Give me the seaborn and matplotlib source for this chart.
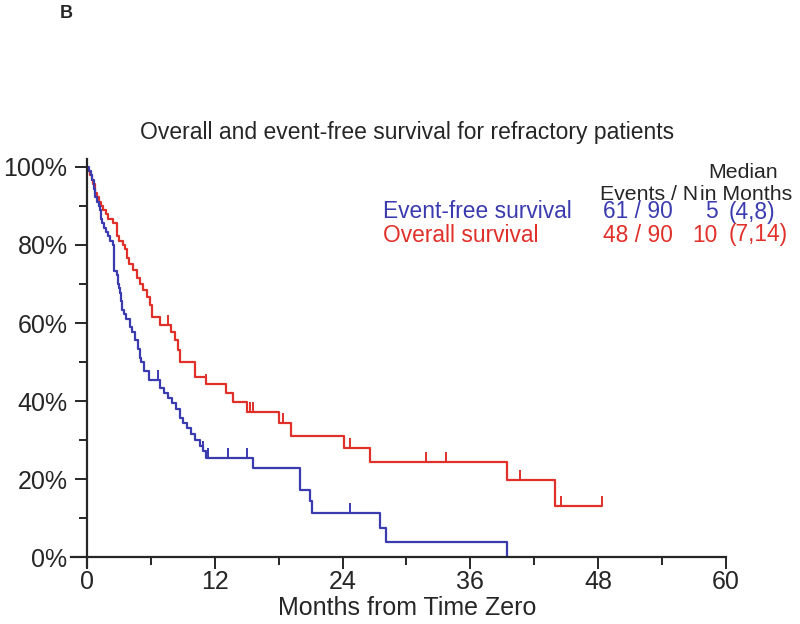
import numpy as np
import pandas as pd
import matplotlib
matplotlib.use('Agg')
import matplotlib.pyplot as plt
import seaborn as sns

# Kaplan-Meier step data (months, survival %)
efs_time = [0, 0.2, 0.4, 0.5, 0.7, 0.8, 0.9, 1.1, 1.2, 1.3, 1.4, 1.6, 1.8, 2.0, 2.2,
            2.4, 2.5, 2.55, 2.8, 2.9, 3.0, 3.1, 3.2, 3.3, 3.5, 3.7, 4.0, 4.2, 4.5,
            4.8, 5.0, 5.1, 5.4, 5.8, 6.9, 7.2, 7.6, 8.0, 8.4, 8.7, 9.0, 9.4, 9.8,
            10.1, 10.6, 10.9, 11.2, 15.6, 20.0, 20.9, 21.1, 27.5, 28.1, 39.4]
efs_surv = [100, 98.9, 97.8, 96.7, 94.4, 92.2, 91.1, 90.0, 88.9, 86.7, 85.6, 84.4,
            83.3, 82.2, 81.1, 80.0, 76.7, 73.3, 72.2, 70.0, 68.9, 67.8, 65.6, 63.3,
            62.2, 61.1, 58.9, 57.8, 55.6, 53.3, 51.1, 50.0, 47.8, 45.5, 43.3, 42.0,
            40.7, 39.4, 38.1, 35.6, 34.3, 33.0, 31.6, 30.0, 28.6, 27.2, 25.5, 22.9,
            17.2, 14.3, 11.4, 7.6, 3.8, 0]
efs_cens = [6.7, 10.9, 11.4, 13.2, 15.0, 24.7]

os_time = [0, 0.1, 0.3, 0.5, 0.6, 0.75, 0.9, 1.1, 1.3, 1.5, 1.8, 2.0, 2.4, 2.8, 3.0,
           3.4, 3.6, 3.8, 3.9, 4.3, 4.7, 5.0, 5.3, 5.6, 5.9, 6.1, 6.9, 7.9, 8.3,
           8.5, 8.7, 10.1, 11.2, 13.1, 13.7, 15.0, 18.0, 19.2, 24.1, 26.6, 39.4,
           43.9, 48.4]
os_surv = [100, 98.9, 97.8, 96.7, 95.6, 93.3, 92.2, 91.1, 90.0, 88.9, 87.8, 86.7,
           85.6, 82.2, 81.1, 80.0, 78.9, 76.7, 75.0, 73.6, 71.5, 70.0, 68.5, 66.7,
           64.6, 61.6, 59.5, 57.8, 55.6, 53.0, 50.0, 46.2, 44.5, 42.0, 39.8, 37.3,
           34.3, 31.0, 28.1, 24.4, 19.7, 13.1, 13.1]
os_cens = [7.6, 11.2, 15.0, 15.3, 15.6, 18.4, 24.7, 31.8, 33.7, 40.7, 44.5, 48.4]

x_ticks = [0, 12, 24, 36, 48, 60]
y_ticks = [0, 20, 40, 60, 80, 100]
y_labels = ['0%', '20%', '40%', '60%', '80%', '100%']

blue = '#3b3bb0'
red = '#e0302a'

sns.set_style('ticks')
plt.rcParams['font.family'] = ['Liberation Sans', 'DejaVu Sans']


def at_time(times, surv, t):
    # survival value of the step curve at time t
    idx = np.searchsorted(times, t, side='right') - 1
    return np.asarray(surv)[idx]


fig = plt.figure(figsize=(8, 6.24), dpi=100)
ax = fig.add_axes([0.08875, 0.0913, 0.81875, 0.6538])

efs = pd.DataFrame({'t': efs_time, 's': efs_surv})
ovs = pd.DataFrame({'t': os_time, 's': os_surv})
sns.lineplot(data=ovs, x='t', y='s', drawstyle='steps-post', estimator=None,
             color=red, lw=1.6, ax=ax)
sns.lineplot(data=efs, x='t', y='s', drawstyle='steps-post', estimator=None,
             color=blue, lw=1.6, ax=ax)

# censor marks (tick up from the curve)
sns.scatterplot(x=os_cens, y=at_time(os_time, os_surv, os_cens), marker=2,
                s=55, color=red, linewidth=1.4, ax=ax)
sns.scatterplot(x=efs_cens, y=at_time(efs_time, efs_surv, efs_cens), marker=2,
                s=55, color=blue, linewidth=1.4, ax=ax)

ax.set_xlim(-1.5, 60)
ax.set_ylim(-2.5, 102)
ax.spines['left'].set_position(('data', 0))
ax.spines['bottom'].set_position(('data', 0))
ax.spines['top'].set_visible(False)
ax.spines['right'].set_visible(False)
for s in ['left', 'bottom']:
    ax.spines[s].set_linewidth(1.6)

ax.set_xticks(x_ticks)
ax.set_xticks([6, 18, 30, 42, 54], minor=True)
ax.set_yticks(y_ticks)
ax.set_yticklabels(y_labels)
ax.set_yticks([10, 30, 50, 70, 90], minor=True)
ax.tick_params(axis='both', which='major', length=8.5, width=1.4, labelsize=18,
               direction='out')
ax.tick_params(axis='both', which='minor', length=5.5, width=1.4, direction='out')
ax.tick_params(axis='x', which='major', pad=0.5)
ax.tick_params(axis='y', which='major', pad=5.5)

ax.set_xlabel('Months from Time Zero', fontsize=18)
ax.set_ylabel('')
ax.xaxis.set_label_coords(0.514, -0.071)

# title and panel letter
fig.text(407 / 800, 1 - 132 / 624, 'Overall and event-free survival for refractory patients',
         fontsize=16.5, ha='center', va='center')
fig.text(60 / 800, 1 - 14 / 624, 'B', fontsize=13, fontweight='bold',
         ha='left', va='center')

# legend table
fs = 16.4
hfs = 15.3
fig.text(743 / 800, 1 - 173 / 624, 'Median', fontsize=hfs, ha='center', va='center')
fig.text(698 / 800, 1 - 194 / 624, 'Events / N', fontsize=hfs, ha='right', va='center')
fig.text(792 / 800, 1 - 194 / 624, 'in Months', fontsize=hfs, ha='right', va='center')

rows = [('Event-free survival', '61 / 90', '5', '(4,8)', blue, 212),
        ('Overall survival', '48 / 90', '10', '(7,14)', red, 235)]
for name, ev, med, ci, col, yp in rows:
    yy = 1 - yp / 624
    fig.text(383 / 800, yy, name, fontsize=fs, color=col, ha='left', va='center')
    fig.text(673 / 800, yy, ev, fontsize=fs, color=col, ha='right', va='center')
    fig.text(718 / 800, yy, med, fontsize=fs, color=col, ha='right', va='center')
    fig.text(729 / 800, yy, ci, fontsize=fs, color=col, ha='left', va='center')

fig.savefig('out.png', dpi=100)
